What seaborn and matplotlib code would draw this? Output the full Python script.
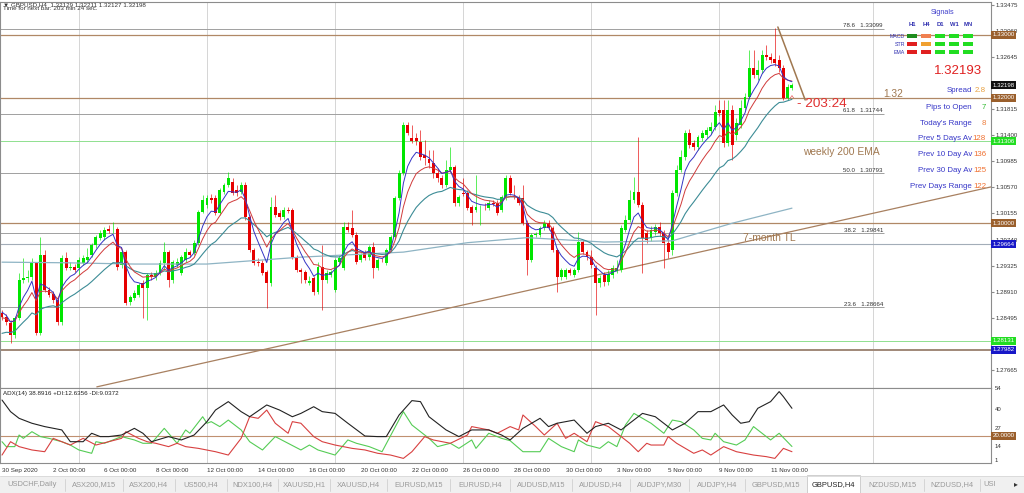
import numpy as np
import pandas as pd
import seaborn as sns
import matplotlib.pyplot as plt
from matplotlib.patches import Rectangle
from matplotlib.transforms import blended_transform_factory

sns.set_style("white")
plt.rcParams['font.family'] = ['Liberation Sans', 'DejaVu Sans']

# ============================
# Data: GBPUSD H4 candles (prices in pips, 1e-4)
# ============================
o_pips = [12857, 12851, 12841, 12822, 12849, 12910, 12913, 12915, 12937, 12825,
          12950, 12894, 12887, 12878, 12843, 12945, 12929, 12930, 12929, 12937,
          12942, 12950, 12965, 12977, 12978, 12991, 12989, 12991, 12934, 12954,
          12875, 12881, 12886, 12905, 12897, 12918, 12915, 12921, 12937, 12954,
          12910, 12934, 12921, 12942, 12954, 12953, 12969, 13018, 13029, 13040,
          13040, 13016, 13050, 13061, 13066, 13053, 13050, 13061, 13010, 12957,
          12938, 12937, 12922, 12905, 13026, 13016, 13010, 13021, 13021, 12946,
          12926, 12922, 12905, 12913, 12891, 12930, 12910, 12918, 12894, 12938,
          12929, 12994, 12993, 12981, 12942, 12953, 12946, 12962, 12929, 12942,
          12937, 12957, 12978, 13040, 13080, 13157, 13136, 13136, 13130, 13109,
          13102, 13096, 13080, 13072, 13061, 13085, 13090, 13032, 13048, 13048,
          13026, 13021, 13024, 13028, 13024, 13032, 13032, 13021, 13042, 13072,
          13043, 13042, 13040, 13000, 12942, 12981, 12981, 12993, 13000, 12993,
          12957, 12915, 12915, 12926, 12918, 12926, 12970, 12954, 12946, 12929,
          12905, 12918, 12906, 12918, 12924, 12926, 12989, 13005, 13037, 13050,
          13029, 12985, 12977, 12986, 12994, 12985, 12969, 12957, 13048, 13085,
          13106, 13144, 13128, 13121, 13136, 13141, 13147, 13153, 13180, 13180,
          13128, 13180, 13141, 13157, 13184, 13201, 13247, 13236, 13244, 13268,
          13265, 13262, 13260, 13247, 13199, 13215]
h_pips = [12862, 12856, 12846, 12852, 12921, 12945, 12926, 12945, 12938, 12978,
          12957, 12899, 12892, 12881, 12950, 12954, 12938, 12935, 12946, 12950,
          12961, 12969, 12981, 12989, 12994, 12997, 13002, 12994, 12957, 12957,
          12886, 12894, 12905, 12910, 12921, 12922, 12926, 12942, 12970, 12957,
          12942, 12945, 12950, 12961, 12957, 12973, 13021, 13045, 13045, 13047,
          13045, 13056, 13064, 13082, 13072, 13061, 13066, 13066, 13013, 12961,
          12945, 12942, 12926, 13042, 13045, 13021, 13026, 13026, 13024, 12950,
          12929, 12926, 12916, 12916, 12938, 12965, 12926, 12926, 12945, 12950,
          13002, 13002, 13021, 12986, 12953, 12957, 12965, 12970, 12945, 12945,
          12961, 12981, 13043, 13085, 13161, 13161, 13157, 13144, 13149, 13133,
          13117, 13117, 13088, 13077, 13101, 13121, 13093, 13045, 13072, 13053,
          13029, 13077, 13029, 13032, 13037, 13037, 13037, 13045, 13077, 13077,
          13061, 13045, 13061, 13005, 12985, 12986, 12996, 13005, 13005, 12996,
          12961, 12929, 12929, 12929, 12929, 12986, 12973, 12957, 12957, 12934,
          12918, 12922, 12926, 12934, 12942, 12997, 13013, 13053, 13074, 13137,
          13034, 12989, 12996, 12999, 13002, 12989, 12973, 13053, 13093, 13117,
          13149, 13150, 13133, 13141, 13149, 13153, 13161, 13188, 13196, 13196,
          13196, 13188, 13168, 13196, 13207, 13276, 13276, 13260, 13276, 13284,
          13271, 13311, 13268, 13252, 13222, 13223]
l_pips = [12846, 12838, 12809, 12817, 12846, 12905, 12906, 12910, 12822, 12822,
          12891, 12883, 12873, 12838, 12838, 12926, 12926, 12922, 12918, 12934,
          12937, 12946, 12961, 12973, 12973, 12985, 12985, 12926, 12929, 12870,
          12870, 12878, 12883, 12849, 12846, 12910, 12910, 12918, 12926, 12899,
          12905, 12930, 12918, 12938, 12946, 12950, 12965, 13016, 13024, 13032,
          13013, 13013, 13047, 13058, 13045, 13043, 13047, 13005, 12954, 12934,
          12932, 12918, 12865, 12900, 13010, 13005, 13007, 13016, 12943, 12922,
          12905, 12905, 12902, 12886, 12887, 12862, 12905, 12915, 12891, 12937,
          12926, 12986, 12978, 12935, 12938, 12942, 12942, 12913, 12926, 12938,
          12934, 12954, 12975, 13037, 13077, 13141, 13128, 13125, 13101, 13093,
          13088, 13072, 13066, 13056, 13058, 13082, 13028, 13028, 13043, 13021,
          12997, 13018, 12997, 13021, 13021, 13028, 13013, 13018, 13037, 13045,
          13039, 13029, 12997, 12918, 12938, 12978, 12978, 12989, 12989, 12954,
          12891, 12910, 12911, 12918, 12915, 12922, 12951, 12942, 12929, 12854,
          12899, 12900, 12902, 12913, 12921, 12922, 12986, 13002, 13032, 13026,
          12921, 12969, 12972, 12981, 12980, 12929, 12945, 12950, 13043, 13082,
          13101, 13120, 13117, 13117, 13131, 13136, 13142, 13149, 13170, 13121,
          13123, 13101, 13133, 13152, 13180, 13198, 13231, 13228, 13239, 13260,
          13255, 13250, 13241, 13196, 13196, 13212]
c_pips = [12851, 12843, 12822, 12849, 12910, 12913, 12915, 12937, 12825, 12950,
          12894, 12886, 12878, 12843, 12945, 12929, 12930, 12926, 12942, 12945,
          12946, 12965, 12978, 12985, 12989, 12988, 12990, 12930, 12954, 12873,
          12883, 12889, 12902, 12897, 12918, 12915, 12921, 12937, 12954, 12910,
          12938, 12938, 12946, 12954, 12950, 12969, 13018, 13037, 13040, 13037,
          13016, 13053, 13061, 13072, 13048, 13048, 13061, 13010, 12957, 12937,
          12936, 12921, 12905, 13026, 13013, 13010, 13021, 13020, 12946, 12926,
          12922, 12910, 12908, 12891, 12930, 12910, 12921, 12922, 12942, 12945,
          12994, 12989, 12981, 12938, 12950, 12945, 12962, 12929, 12942, 12941,
          12957, 12978, 13040, 13080, 13157, 13144, 13131, 13131, 13106, 13104,
          13096, 13080, 13072, 13061, 13085, 13090, 13032, 13042, 13047, 13024,
          13016, 13026, 13025, 13027, 13032, 13031, 13016, 13042, 13072, 13048,
          13042, 13032, 13000, 12942, 12981, 12983, 12993, 13000, 12993, 12957,
          12915, 12926, 12926, 12921, 12926, 12970, 12954, 12946, 12934, 12905,
          12913, 12906, 12919, 12929, 12929, 12993, 13005, 13037, 13050, 13029,
          12977, 12973, 12989, 12994, 12985, 12969, 12954, 13048, 13085, 13106,
          13144, 13125, 13121, 13137, 13144, 13149, 13153, 13177, 13176, 13128,
          13180, 13125, 13160, 13184, 13201, 13247, 13236, 13244, 13268, 13265,
          13260, 13255, 13247, 13199, 13217, 13220]

# moving average start values read at the left edge
ma_seed_fast = 1.2862
ma_seed_mid = 1.2849
ma_seed_slow = 1.2822
# long moving average
ma_long_bar = [0, 15, 31, 48, 70, 94, 109, 123, 141, 157, 171, 185]
ma_long_val = [1.2938, 1.2937, 1.2935, 1.2935, 1.2946, 1.2954, 1.2969, 1.2977,
               1.2970, 1.2972, 1.3000, 1.3024]

# ADX(14) panel
adx_bar = [0, 2, 4, 7, 10, 14, 16, 19, 21, 23, 25, 28, 31, 33, 35, 39, 42, 45, 48, 50,
           53, 56, 58, 62, 65, 68, 70, 73, 75, 78, 81, 85, 88, 90, 93, 96, 98, 100, 104, 107,
           110, 114, 117, 119, 122, 126, 128, 130, 134, 137, 139, 142, 145, 147, 150, 153, 157, 160, 163, 166,
           169, 171, 173, 175, 177, 180, 182, 183, 185]
adx_val = [44.6, 36.6, 32, 28.6, 26.3, 24, 15.9, 15.9, 21.7, 19.4, 19.4, 20.5, 25.1, 21.7, 15.9, 19.4, 17.1, 20.5, 29.7, 37.7,
           43.5, 36.6, 33.1, 41.2, 37.7, 33.1, 35.4, 40, 36.6, 35.4, 28.6, 19.8, 19.4, 19.4, 34.3, 44.2, 43.5, 33.1, 24, 19.4,
           24, 24, 20.5, 17.1, 25.1, 32, 26.3, 28.6, 30.8, 21.7, 26.3, 28.6, 24, 28.6, 35.4, 33.1, 24, 28.6, 36.6, 36.6,
           41.2, 34.3, 28.6, 29.7, 38.9, 43.5, 50.4, 46.9, 38.9]
pdi_bar = [0, 1, 3, 4, 5, 7, 9, 11, 14, 16, 18, 21, 22, 24, 26, 28, 31, 33, 35, 38,
           39, 41, 43, 44, 47, 48, 49, 51, 53, 56, 58, 61, 64, 67, 70, 72, 74, 78, 81, 83,
           86, 89, 94, 96, 100, 102, 105, 107, 110, 111, 114, 117, 119, 122, 126, 128, 131, 134, 135, 137,
           140, 142, 144, 146, 148, 150, 152, 155, 157, 159, 162, 164, 166, 167, 169, 172, 174, 176, 179, 180,
           182, 185]
pdi_val = [15.9, 12.5, 12.5, 20.5, 18.2, 22.8, 19.4, 18.2, 15.9, 13.6, 10.2, 7.9, 15.9, 14.8, 17.1, 19.4, 17.1, 14.8, 14.8, 25.1,
           21.7, 14.8, 24, 21.7, 33.1, 28.6, 29.7, 26.3, 30.8, 24, 15.9, 10.2, 19.4, 14.8, 10.2, 13.6, 10.2, 6.7, 17.1, 14.8,
           12.5, 9, 36.6, 27.4, 18.2, 12.5, 14.8, 11.3, 17.1, 11.3, 21.7, 18.2, 16.6, 9, 9, 18.2, 12.5, 9, 17.1, 13.6,
           11.3, 15.9, 12.5, 27.4, 35.4, 32, 28.6, 21.7, 30.8, 29.7, 24, 18.2, 17.1, 21.7, 15.9, 13.6, 17.1, 26.3, 19.4, 17.1,
           21.7, 12.6]
mdi_bar = [0, 2, 4, 7, 10, 12, 14, 16, 19, 22, 25, 28, 29, 32, 34, 36, 39, 41, 43, 46,
           50, 53, 56, 58, 60, 62, 64, 67, 68, 70, 73, 75, 78, 82, 85, 88, 91, 94, 96, 99,
           101, 105, 109, 110, 114, 116, 119, 121, 122, 125, 127, 130, 132, 134, 137, 139, 142, 144, 147, 149,
           151, 152, 155, 156, 158, 162, 164, 166, 169, 172, 176, 179, 181, 183, 185]
mdi_val = [6.7, 15.9, 12.5, 10.2, 9, 18.2, 15.9, 13.6, 18.2, 13.6, 15.9, 18.2, 22.8, 18.2, 15.9, 14.8, 12.5, 14.8, 12.5, 11.3,
           9, 6.7, 18.2, 33.1, 32, 37.7, 28.6, 21.7, 29.7, 28.6, 19.4, 15.9, 13.6, 11.3, 10.2, 7.9, 6.7, 4.4, 9, 19.4,
           17.1, 14.8, 20.5, 26.3, 24, 21.7, 26.3, 24, 34.3, 26.3, 20.5, 28.6, 18.2, 21.7, 15.9, 29.7, 26.3, 21.7, 14.8, 9,
           14.8, 13.6, 13.6, 19.4, 14.8, 7.9, 10.2, 6.7, 12.5, 9, 6.7, 5.6, 4.4, 11.3, 9.0]

date_bars = [0, 12, 24, 36, 48, 60, 72, 84, 96, 108, 120, 132, 144, 156, 168, 180]
date_labels = ["30 Sep 2020", "2 Oct 00:00", "6 Oct 00:00", "8 Oct 00:00", "12 Oct 00:00",
               "14 Oct 00:00", "16 Oct 00:00", "20 Oct 00:00", "22 Oct 00:00", "26 Oct 00:00",
               "28 Oct 00:00", "30 Oct 00:00", "3 Nov 00:00", "5 Nov 00:00", "9 Nov 00:00",
               "11 Nov 00:00"]
week_sep_bars = [18, 48, 78, 108, 138, 168, 204]

fib_pct = ["78.6", "61.8", "50.0", "38.2", "23.6"]
fib_val = [1.33099, 1.31744, 1.30793, 1.29841, 1.28664]
brown_levels = [1.33000, 1.32000, 1.30000]
green_levels = [1.31306, 1.28131]
price_ticks = [1.33475, 1.33060, 1.32645, 1.31815, 1.31400, 1.30985, 1.30570,
               1.30155, 1.29740, 1.29325, 1.28910, 1.28495, 1.27665]
tags = [(1.33000, "1.33000", "#9a5f2c"), (1.32198, "1.32198", "#111111"),
        (1.32000, "1.32000", "#9a5f2c"), (1.31306, "1.31306", "#22dd22"),
        (1.30000, "1.30000", "#9a5f2c"), (1.29664, "1.29664", "#1818c8"),
        (1.28131, "1.28131", "#22dd22"), (1.27982, "1.27982", "#1818c8")]

tl7_bar = [22.2, 231.6]
tl7_val = [1.27394, 1.30578]
tl_short_bar = [181.7, 188.1]
tl_short_val = [1.33125, 1.31963]

info_labels = ["Spread", "Pips to Open", "Today's Range", "Prev 5 Days Av",
               "Prev 10 Day Av", "Prev 30 Day Av", "Prev Days Range"]
info_values = ["2.8", "7", "8", "128", "136", "125", "122"]
info_colors = ["#e8a040", "#33bb33", "#ee8040", "#f07030", "#f07030", "#f07030", "#f07030"]

sig_rows = ["MACD", "STR", "EMA"]
sig_cols = ["H1", "H4", "D1", "W1", "MN"]
sig_colors = [["#1e8c1e", "#f08050", "#22dd22", "#22dd22", "#22dd22"],
              ["#e02020", "#f0a030", "#22dd22", "#22dd22", "#22dd22"],
              ["#e02020", "#e02020", "#22dd22", "#22dd22", "#22dd22"]]

tabs = ["USDCHF,Daily", "ASX200,M15", "ASX200,H4", "US500,H4", "NDX100,H4", "XAUUSD,H1",
        "XAUUSD,H4", "EURUSD,M15", "EURUSD,H4", "AUDUSD,M15", "AUDUSD,H4", "AUDJPY,M30",
        "AUDJPY,H4", "GBPUSD,M15", "GBPUSD,H4", "NZDUSD,M15", "NZDUSD,H4", "USI"]
tab_edges = [0, 65, 123, 175, 227, 278, 330, 387, 450, 510, 572, 630, 689, 745, 807, 860, 924, 980, 1000]

# ============================
# Derived series
# ============================
o = np.array(o_pips) / 1e4
h = np.array(h_pips) / 1e4
l = np.array(l_pips) / 1e4
c = np.array(c_pips) / 1e4
idx = np.arange(len(c))


def ema(seed, span):
    s = pd.Series(np.concatenate([[seed], c]))
    return s.ewm(span=span, adjust=False).mean().to_numpy()[1:]


ma_fast = ema(ma_seed_fast, 5)
ma_mid = ema(ma_seed_mid, 9)
ma_slow = ema(ma_seed_slow, 21)

# ============================
# Figure
# ============================
W, H = 1024, 493
fig = plt.figure(figsize=(W / 100, H / 100), dpi=100)
fig.patch.set_facecolor("white")


def fx(x):
    return x / W


def fy(y):
    return 1 - y / H


ax = fig.add_axes([0, fy(388), fx(991), fy(2) - fy(388)])
ax2 = fig.add_axes([0, fy(463), fx(991), fy(388) - fy(463)], sharex=ax)

ax.set_xlim((0 - 2) / 4.27, (991 - 2) / 4.27)
ax.set_ylim(1.27376, 1.33523)
ax2.set_ylim(1.22, 52.89)

for a in (ax, ax2):
    for s in a.spines.values():
        s.set_color("#8c8c8c")
        s.set_linewidth(0.8)
    for b in week_sep_bars:
        a.axvline(b, color="#cfcfcf", lw=0.6, zorder=0)

# horizontal levels
for v in brown_levels:
    ax.axhline(v, color="#b08866", lw=0.9, zorder=1)
for v in green_levels:
    ax.axhline(v, color="#8fe08f", lw=0.7, zorder=1)
ax.axhline(1.29664, color="#a3adb8", lw=0.8, zorder=1)
ax.axhline(1.27982, color="#a08878", lw=1.4, zorder=1)
for p, v in zip(fib_pct, fib_val):
    ax.hlines(v, -5, 206.5, color="#a0a0a0", lw=0.7, zorder=1)
    ax.text(206.3, v + 0.00008, f"{p}   {v:.5f}", fontsize=4.4, color="#333333",
            ha="right", va="bottom")

# trend lines
ax.plot(tl7_bar, tl7_val, color="#a88060", lw=0.9, zorder=2)
ax.plot(tl_short_bar, tl_short_val, color="#a07850", lw=1.1, zorder=2)

# candles
up = c >= o
col = np.where(up, "#00e600", "#e60000")
ax.vlines(idx, l, h, colors=col, lw=0.6, alpha=0.75, zorder=3)
ax.bar(idx, np.maximum(np.abs(c - o), 0.00005), bottom=np.minimum(o, c), width=0.68,
       color=col, linewidth=0, zorder=4)

# moving averages
sns.lineplot(x=ma_long_bar, y=ma_long_val, ax=ax, color="#8eb4c4", lw=0.9, zorder=5)
sns.lineplot(x=idx, y=ma_slow, ax=ax, color="#3c8c96", lw=0.8, zorder=5)
sns.lineplot(x=idx, y=ma_mid, ax=ax, color="#d03a3a", lw=0.7, zorder=6)
sns.lineplot(x=idx, y=ma_fast, ax=ax, color="#3434c4", lw=0.7, zorder=6)

# price axis
ax.yaxis.tick_right()
ax.set_yticks(price_ticks)
ax.set_yticklabels([f"{v:.5f}" for v in price_ticks])
ax.tick_params(axis="y", length=2, pad=1.5, labelsize=4.4, colors="#8c8c8c", labelcolor="#333333")
ax.tick_params(axis="x", length=0, labelbottom=False)
ax.set_xlabel("")
ax.set_ylabel("")
tr = blended_transform_factory(ax.transAxes, ax.transData)
for v, t, colr in tags:
    ax.text(1.0015, v, t, transform=tr, fontsize=4.4, color="white", ha="left", va="center",
            bbox=dict(boxstyle="square,pad=0.25", fc=colr, ec="none"), clip_on=False, zorder=10)

# ADX panel
ax2.axhline(20, color="#c09070", lw=0.8, zorder=1)
sns.lineplot(x=pdi_bar, y=pdi_val, ax=ax2, color="#55cc55", lw=0.8)
sns.lineplot(x=mdi_bar, y=mdi_val, ax=ax2, color="#d84040", lw=0.8)
sns.lineplot(x=adx_bar, y=adx_val, ax=ax2, color="#222222", lw=0.8)
ax2.set_yticks([])
ax2.set_ylabel("")
ax2.set_xticks(date_bars)
ax2.set_xticklabels(date_labels)
for lab in ax2.get_xticklabels():
    lab.set_horizontalalignment("left")
ax2.tick_params(axis="x", length=2, pad=1.5, labelsize=4.5, colors="#8c8c8c", labelcolor="#333333")
tr2 = blended_transform_factory(ax2.transAxes, ax2.transData)
for v in [54, 40, 27, 14]:
    ax2.text(1.004, v, str(v), transform=tr2, fontsize=4.3, color="#333333", ha="left",
             va="top", clip_on=False)
ax2.text(1.004, 1.22, "1", transform=tr2, fontsize=4.3, color="#333333", ha="left",
         va="bottom", clip_on=False)
ax2.text(1.0015, 20, "20.0000", transform=tr2, fontsize=4.4, color="white", ha="left",
         va="center", bbox=dict(boxstyle="square,pad=0.25", fc="#9a5f2c", ec="none"),
         clip_on=False, zorder=10)
ax2.text(0.003, 0.93, "ADX(14) 38.8916 +DI:12.6356 -DI:9.0372", transform=ax2.transAxes,
         fontsize=4.5, color="#222222", ha="left", va="center")

# header texts
fig.text(fx(3), fy(5), "\u25bc GBPUSD,H4  1.32129 1.32211 1.32127 1.32198", fontsize=4.5,
         color="#333333", va="center")
fig.text(fx(3), fy(9), "Time for next bar: 203 min 24 sec.", fontsize=4.5, color="#333333",
         va="center")

# signals box
fig.text(fx(943), fy(13), "Signals", fontsize=5.2, color="#4040cc", ha="center", va="center")
sig_x = [912, 926, 940, 954, 968]
sig_y = [36, 44, 52]
for x, t in zip(sig_x, sig_cols):
    fig.text(fx(x), fy(24.5), t, fontsize=4.2, color="#3030b0", ha="center", va="center",
             fontweight="bold")
for r, (y, name) in enumerate(zip(sig_y, sig_rows)):
    fig.text(fx(905), fy(y), name, fontsize=3.8, color="#3030b0", ha="right", va="center")
    for x, colr in zip(sig_x, sig_colors[r]):
        fig.add_artist(Rectangle((fx(x - 5), fy(y + 2)), fx(10), fx(0) + 4 / H,
                                 transform=fig.transFigure, fc=colr, ec="none"))

fig.text(fx(958), fy(71), "1.32193", fontsize=9.5, color="#e02020", ha="center", va="center")
info_y = [91, 108, 124, 139, 155, 171, 187]
for y, t, v, colr in zip(info_y, info_labels, info_values, info_colors):
    fig.text(fx(972), fy(y), t, fontsize=5.7, color="#3838c8", ha="right", va="center")
    fig.text(fx(986), fy(y), v, fontsize=5.7, color=colr, ha="right", va="center")

# chart annotations
fig.text(fx(893), fy(94), "1.32", fontsize=7.4, color="#a07850", ha="center", va="center")
fig.text(fx(790), fy(99), "^", fontsize=6, color="#e03030", ha="left", va="center")
fig.text(fx(797), fy(104), "- 203:24", fontsize=9.7, color="#e03030", ha="left", va="center")
fig.text(fx(803), fy(152), "weekly 200 EMA", fontsize=7.4, color="#a07850", ha="left", va="center")
fig.text(fx(743), fy(238), "7-month TL", fontsize=7.5, color="#a07850", ha="left", va="center")

# tab bar
fig.add_artist(Rectangle((0, 0), 1, fy(476), transform=fig.transFigure, fc="#f0f0f0",
                         ec="none"))
fig.add_artist(plt.Line2D([0, 1], [fy(476), fy(476)], transform=fig.transFigure,
                          color="#d8d8d8", lw=0.6))
for i, t in enumerate(tabs):
    x0, x1 = tab_edges[i], tab_edges[i + 1]
    active = t == "GBPUSD,H4"
    if active:
        fig.add_artist(Rectangle((fx(x0), 0), fx(x1 - x0), fy(475), transform=fig.transFigure,
                                 fc="white", ec="#c8c8c8", lw=0.6))
    fig.text(fx((x0 + x1) / 2), fy(485), t, fontsize=5.4,
             color="#222222" if active else "#9a9a9a", ha="center", va="center")
    if i > 0:
        fig.add_artist(plt.Line2D([fx(x0), fx(x0)], [fy(491), fy(479)],
                                  transform=fig.transFigure, color="#d0d0d0", lw=0.6))
fig.text(fx(1016), fy(485), "\u25b8", fontsize=5.5, color="#333333", ha="center", va="center")

fig.savefig("out.png", dpi=100)
